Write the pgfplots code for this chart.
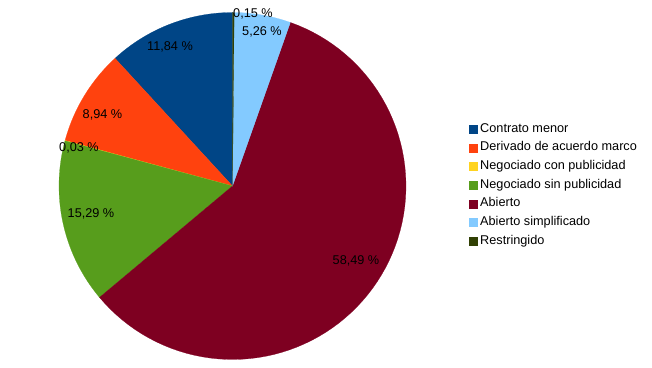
\documentclass[border=0pt]{standalone}
\usepackage{fontspec}
\setmainfont{Liberation Sans}
\usepackage{pgfplots}
\pgfplotsset{compat=1.18}
\definecolor{cA}{HTML}{004586}
\definecolor{cB}{HTML}{FF420E}
\definecolor{cC}{HTML}{FFD320}
\definecolor{cD}{HTML}{579D1C}
\definecolor{cE}{HTML}{7E0021}
\definecolor{cF}{HTML}{83CAFF}
\definecolor{cG}{HTML}{314004}
% shares (percent)
\def\vA{11.84}\def\vB{8.94}\def\vC{0.03}\def\vD{15.29}\def\vE{58.49}\def\vF{5.26}\def\vG{0.15}
\pgfmathsetmacro\aA{90}
\pgfmathsetmacro\aB{\aA+3.6*\vA}
\pgfmathsetmacro\aC{\aB+3.6*\vB}
\pgfmathsetmacro\aD{\aC+3.6*\vC}
\pgfmathsetmacro\aE{\aD+3.6*\vD}
\pgfmathsetmacro\aF{\aE+3.6*\vE}
\pgfmathsetmacro\aG{\aF+3.6*\vF}
\pgfmathsetmacro\aH{\aG+3.6*\vG}
\def\cx{232.5}\def\cy{181}\def\R{173.5}
\begin{document}
\begin{tikzpicture}
\begin{axis}[width=652pt,height=367pt,scale only axis,
  xmin=0,xmax=652,ymin=0,ymax=367,hide axis,clip=false,
  font=\fontsize{12.7}{15}\selectfont,
  legend style={at={(axis cs:469,244)},anchor=north west,draw=none,fill=none,
    inner sep=0pt,outer sep=0pt,row sep=6.7pt,column sep=3pt,
    font=\fontsize{12.7}{15}\selectfont,
    nodes={inner sep=0pt,text height=9.2pt,text depth=2.8pt}},
  legend cell align=left,
  legend image code/.code={\fill[#1] (0pt,-4pt) rectangle (8pt,4pt);},
  every axis plot/.append style={line width=0.2pt,samples=80,variable=\t}]
\addplot[fill=cA,draw=cA,domain=\aA:\aB] ({\cx+\R*cos(\t)},{\cy+\R*sin(\t)}) -- (axis cs:\cx,\cy) -- cycle;
\addlegendentry{Contrato menor}
\addplot[fill=cB,draw=cB,domain=\aB:\aC] ({\cx+\R*cos(\t)},{\cy+\R*sin(\t)}) -- (axis cs:\cx,\cy) -- cycle;
\addlegendentry{Derivado de acuerdo marco}
\addplot[fill=cC,draw=cC,domain=\aC:\aD] ({\cx+\R*cos(\t)},{\cy+\R*sin(\t)}) -- (axis cs:\cx,\cy) -- cycle;
\addlegendentry{Negociado con publicidad}
\addplot[fill=cD,draw=cD,domain=\aD:\aE] ({\cx+\R*cos(\t)},{\cy+\R*sin(\t)}) -- (axis cs:\cx,\cy) -- cycle;
\addlegendentry{Negociado sin publicidad}
\addplot[fill=cE,draw=cE,domain=\aE:\aF] ({\cx+\R*cos(\t)},{\cy+\R*sin(\t)}) -- (axis cs:\cx,\cy) -- cycle;
\addlegendentry{Abierto}
\addplot[fill=cF,draw=cF,domain=\aF:\aG] ({\cx+\R*cos(\t)},{\cy+\R*sin(\t)}) -- (axis cs:\cx,\cy) -- cycle;
\addlegendentry{Abierto simplificado}
\addplot[fill=cG,draw=cG,domain=\aG:\aH] ({\cx+\R*cos(\t)},{\cy+\R*sin(\t)}) -- (axis cs:\cx,\cy) -- cycle;
\addlegendentry{Restringido}
\node at (axis cs:170,320) {11,84 \%};
\node at (axis cs:102.5,252) {8,94 \%};
\node at (axis cs:79,219.5) {0,03 \%};
\node at (axis cs:91,153.5) {15,29 \%};
\node at (axis cs:356,106.5) {58,49 \%};
\node at (axis cs:262,335) {5,26 \%};
\node at (axis cs:253,353) {0,15 \%};
\end{axis}
\path (0,0) rectangle (652pt,367pt);
\end{tikzpicture}
\end{document}
